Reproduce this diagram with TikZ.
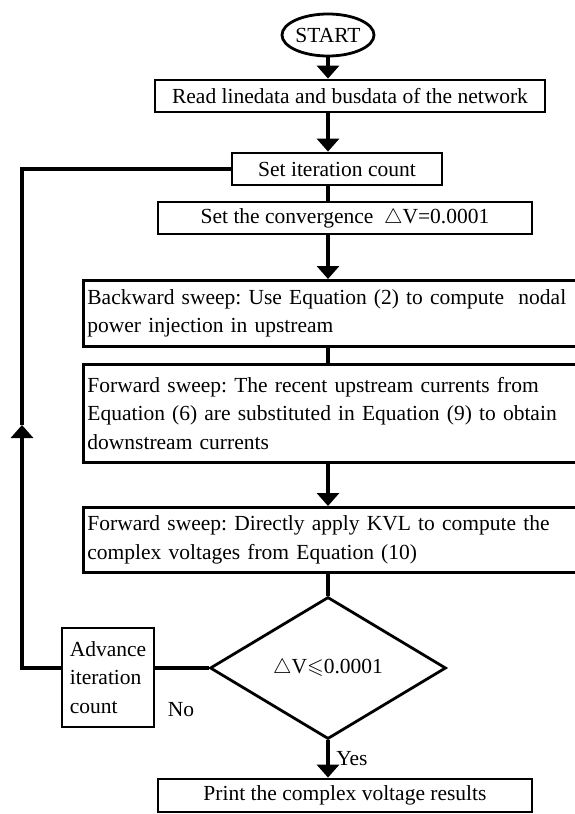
\documentclass[tikz,border=0pt]{standalone}
\usepackage{fontspec}
\setmainfont{Liberation Serif}
\usepackage{amssymb}
\usetikzlibrary{shapes.geometric,arrows.meta}

\tikzset{
  box/.style={draw,rectangle,line width=2.8pt,inner sep=4pt},
  widebox/.style={box,anchor=north west,align=left,text width=510pt},
  conn/.style={line width=4.5pt},
  arr/.style={conn,-{Triangle[width=22pt,length=13pt]}},
}

\begin{document}
\frenchspacing
\begin{tikzpicture}[x=1pt,y=-1pt,font=\fontsize{21.5}{28.5}\selectfont]

\useasboundingbox (0,0) rectangle (575,814);

\node[draw,ellipse,line width=2.8pt,inner sep=0pt,minimum width=80pt,minimum height=42pt] (start) at (328,35) {START};

\node[box,minimum width=390pt,minimum height=32pt] (read) at (350,96) {Read linedata and busdata of the network};
\node[box,minimum width=210pt,minimum height=32pt] (iter) at (337,169) {Set iteration count};
\node[box,minimum width=374pt,minimum height=32pt] (conv) at (345,218) {Set the convergence \ $\bigtriangleup$V=0.0001};

\node[widebox,minimum height=66pt] (back) at (82,279) {Backward sweep: Use Equation (2) to compute \ nodal\\power injection in upstream};
\node[widebox,minimum height=98pt] (fwdone) at (82,363) {Forward sweep: The recent upstream currents from\\Equation (6) are substituted in Equation (9) to obtain\\downstream currents};
\node[widebox,minimum height=65pt] (fwdtwo) at (82,506) {Forward sweep: Directly apply KVL to compute the\\complex voltages from Equation (10)};

\node[draw,diamond,line width=2.8pt,inner sep=0pt,minimum width=236pt,minimum height=142pt] (test) at (328,668) {$\bigtriangleup$V$\leqslant$0.0001\hspace{12pt}};

\node[box,align=left,inner sep=3pt,minimum width=92pt,minimum height=99pt] (adv) at (108,677.5) {Advance\\iteration\\count};

\node[box,minimum width=374pt,minimum height=33pt] (print) at (345,795.5) {Print the complex voltage results};

% main line
\draw[arr] (start) -- (start |- read.north);
\draw[arr] (start |- read.south) -- (start |- iter.north);
\draw[conn] (start |- iter.south) -- (start |- conv.north);
\draw[arr] (start |- conv.south) -- (start |- back.north);
\draw[conn] (start |- back.south) -- (start |- fwdone.north);
\draw[arr] (start |- fwdone.south) -- (start |- fwdtwo.north);
\draw[conn] (start |- fwdtwo.south) -- (test.north);
\draw[arr] (test.south) -- (test.south |- print.north) node[midway,right,inner sep=6pt] (yes) {Yes};

% loop back
\coordinate (turn) at (22,425);
\draw[conn] (test.west) -- (test.west -| adv.east);
\node (no) at (181,710) {No};
\draw[arr] (test.west -| adv.west) -| (turn);
\draw[conn] (turn) |- (iter.west);

\end{tikzpicture}
\end{document}
